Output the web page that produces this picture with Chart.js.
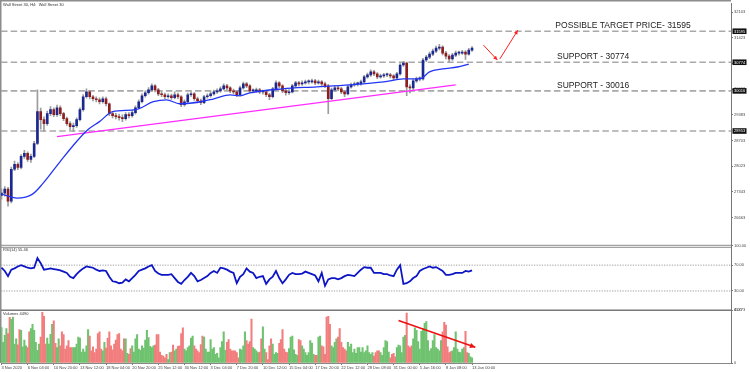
<!DOCTYPE html>
<html><head><meta charset="utf-8">
<script src="https://cdn.jsdelivr.net/npm/chart.js@4.4.1/dist/chart.umd.min.js"></script>
<style>html,body{margin:0;padding:0;background:#fff;}canvas{display:block}</style>
</head><body>
<canvas id="c" width="750" height="372"></canvas>
<script>
// ---------------- DATA ----------------
const chartTitle = "Wall Street 30, H4:  Wall Street 30";
const rsiLabel = "RSI(14) 55.46";
const volLabel = "Volumes 4490";
const barsPerLabel = 16;          // one x label every 16 H4 bars
const candleStep = 2;             // each candle below spans 2 H4 bars
const xTickLabels = ["3 Nov 2020","6 Nov 04:00","10 Nov 20:00","13 Nov 12:00","18 Nov 04:00","20 Nov 20:00","25 Nov 12:00","30 Nov 12:00","3 Dec 04:00","7 Dec 20:00","10 Dec 12:00","15 Dec 04:00","17 Dec 20:00","22 Dec 12:00","28 Dec 08:00","31 Dec 00:00","5 Jan 16:00","8 Jan 08:00","13 Jan 00:00"];

const firstOpen = 27250;
const closes = [27308,27414,27098,27940,28071,27992,28282,28360,28203,28282,
28623,29465,29255,29149,29412,29518,29386,29570,29412,29281,
29149,29070,29097,29255,29518,29860,29991,29860,29807,29781,
29728,29807,29675,29412,29360,29333,29307,29281,29386,29360,
29439,29570,29728,29886,29965,30044,30149,30044,29938,29912,
29860,29886,29833,29912,29860,29649,29728,29912,29938,29807,
29754,29702,29860,29886,29938,29991,30017,30070,30149,30096,
30017,29991,29912,30096,30202,30149,30017,30017,30044,29991,
29991,29912,29860,30070,30228,30149,30017,29965,29991,30149,
30228,30202,30228,30254,30254,30280,30228,30254,30202,30149,
29807,30044,30096,30070,29991,29938,30123,30175,30202,30202,
30254,30386,30438,30517,30464,30386,30412,30438,30438,30412,
30359,30464,30701,30754,30123,30096,30280,30333,30333,30833,
30911,30990,31069,31148,31174,31017,30938,30859,30964,31017,
31017,31043,30990,31095,31148];
const highs = [27420,27480,27460,28000,28160,28120,28330,28440,28400,28340,
28680,30044,29560,29330,29480,29600,29570,29640,29620,29450,
29320,29200,29160,29300,29570,29920,30070,30030,29900,29860,
29830,29860,29850,29700,29470,29420,29400,29380,29440,29440,
29500,29620,29780,29940,30020,30100,30200,30180,30080,29990,
29960,29940,29930,29990,29960,29890,29780,29960,29990,29970,
29850,29800,29900,29940,29990,30040,30070,30120,30200,30190,
30130,30060,30020,30140,30250,30240,30180,30070,30090,30080,
30040,30030,29950,30110,30280,30260,30180,30060,30050,30190,
30270,30270,30280,30300,30310,30330,30320,30300,30290,30250,
30190,30090,30150,30140,30110,30030,30170,30220,30250,30250,
30300,30430,30490,30570,30560,30500,30460,30480,30490,30480,
30450,30510,30740,30800,30780,30180,30320,30380,30390,30880,
30960,31040,31120,31200,31250,31210,31060,30980,31010,31070,
31070,31090,31080,31140,31190];
const lows = [27150,27230,26966,27050,27900,27930,27950,28230,28150,28120,
28250,28590,29000,28940,29100,29360,29330,29340,29360,29230,
29100,28990,28939,29050,29220,29480,29820,29800,29750,29720,
29670,29690,29620,29360,29300,29270,29240,29200,29240,29300,
29320,29400,29540,29700,29850,29930,30000,29990,29890,29860,
29810,29820,29790,29800,29810,29600,29610,29700,29870,29760,
29700,29650,29680,29820,29850,29900,29950,29980,30040,30050,
29970,29940,29860,29890,30060,30100,29970,29960,29980,29940,
29930,29860,29780,29830,30040,30100,29970,29900,29920,29960,
30110,30150,30160,30190,30200,30220,30180,30190,30150,30100,
29412,29780,30000,30020,29940,29860,29910,30090,30140,30150,
30170,30230,30350,30400,30420,30340,30350,30370,30390,30360,
30300,30320,30430,30660,29886,29960,30050,30240,30280,30300,
30790,30870,30950,31030,31100,30970,30860,30780,30820,30920,
30960,30980,30850,30960,31060];

// moving average: [bar index, price]
const maPoints = [[0,27282],[9.5,27177],[19,27282],[25,27545],[36,28150],[46,28676],[53,28991],[60,29202],[68,29465],[82,29518],[93,29728],[101,29780],[109,29675],[122,29728],[130,29807],[140,29912],[146,29886],[152,29964],[172,30070],[193,30122],[213,30175],[234,30254],[246,30333],[256,30333],[262,30517],[270,30596],[279,30648],[286,30727]];
const trendPoints = [[34,28807],[278,30175]];

const levels = [31595, 30774, 30016, 28953];
const levelTexts = ["POSSIBLE TARGET PRICE- 31595", "SUPPORT - 30774", "SUPPORT - 30016"];
const levelTextIdx = [339, 340, 340];
const priceArrows = [[[295,31227],[303.5,30832]], [[305,30859],[316,31621]]];
const priceTicks = [32103,31763,31423,31083,30743,30403,30063,29723,29383,29043,28703,28363,28023,27683,27343,27003,26663,26323];

const rsi = [66,61,53,63,65,68,70,68,66,65,
66,81,73,63,64,65,64,63,62,60,
58,52,50,56,61,65,68,67,66,63,
61,62,61,52,45,44,42,43,48,45,
50,55,61,63,65,68,70,61,57,55,
55,55,56,50,44,41,47,52,58,53,
45,47,50,53,58,61,58,66,65,63,
60,58,42,52,56,65,60,58,50,52,
53,41,48,52,61,50,42,48,55,58,
56,56,57,60,58,56,54,45,58,38,
48,50,50,48,50,53,55,54,53,58,
63,67,66,66,58,58,58,56,56,54,
53,63,70,41,42,45,50,53,61,64,
66,68,66,67,64,61,55,55,56,58,
58,58,61,60,62];
const rsiLevels = [70, 30];
const rsiTicks = [100, 70, 30, 0];

const volumes = [30900,18000,24000,30000,25500,39600,38000,39900,16500,21000,
15900,29100,28500,14000,20000,15000,13500,27000,30000,33600,
28500,18000,11100,16500,22500,44100,40500,16500,21600,16500,
25000,33600,36600,17000,13500,21000,15000,27000,24600,12000,
15000,19500,13500,13500,13500,13500,16500,22500,21600,9600,12000,
9600,15000,29100,23400,10500,14000,9000,12000,25500,27000,
12000,10500,18000,12900,21600,27000,15000,11400,16500,20000,
24600,25500,12000,10500,21000,21000,8400,7500,12600,15000,
9600,21000,24600,12000,11100,15000,13000,
20000,28500,22000,14400,13500,
15000,15600,24600,24600,9600,6600,6000,4500,7500,3000,
9000,9600,15600,10500,12000,14400,15000,25500,30600,12000,
10500,13500,15000,21600,23400,15000,12000,10500,9000,16000,
23400,22500,12000,9600,9600,20400,12000,13500,7500,8400,
4500,13500,18600,27000,11100,18000,20400,12000,10500,10500,
10500,9000,4500,12000,11400,15000,27000,19500,16500,18600,
38100,13500,12000,10500,9000,9600,21000,31500,12000,9000,
3000,15000,21000,16500,7500,9000,8400,17100,20400,29100,
12000,9600,9000,12600,22500,23400,11400,7500,6600,20400,
19500,15000,12000,9000,6600,9000,19500,17400,7500,6600,
6600,22500,23400,15000,14100,7500,39900,40500,33600,15000,
13500,18000,21000,22500,30000,18000,13500,12000,10500,18000,
14000,16500,9000,12000,8400,13500,13500,9600,13500,9000,
10500,15000,9000,7500,9000,6000,9000,
10500,10500,9000,6600,13500,19500,18600,9600,4500,7500,
8400,5400,13500,15600,15000,9000,22500,24000,43500,15000,
13500,15000,21000,30600,28500,18600,12000,27600,30000,34500,
36000,19500,10500,12600,19500,24600,13500,12000,10500,19500,
27000,35400,33000,14100,9000,10000,10500,13500,27000,12000,
9600,9000,12000,13500,27600,9000,8400,5400,4500];
const volMax = 45773;
const volTicks = [45773, 0];
const volArrow = [[243,36850],[290,13650]];

// ---------------- STYLE ----------------
const FONT = '"Liberation Sans", Arial, sans-serif';
const UP = '#1b2890', DOWN = '#8e1e1e', WICK = '#9c9c9c';
const VUP = '#6fc26f', VDOWN = '#f27d7d';
const xMin = -0.3, xMax = 446.5;

// ---------------- BUILD ----------------
const opens = closes.map((c, i) => i === 0 ? firstOpen : closes[i - 1]);
const cx = i => i * candleStep;
const wickData = closes.map((c, i) => ({x: cx(i), y: [lows[i], highs[i]]}));
const bodyData = closes.map((c, i) => ({x: cx(i), y: [opens[i], c]}));
const bodyColors = closes.map((c, i) => c >= opens[i] ? UP : DOWN);
const volData = volumes.map((v, i) => ({x: i, y: v}));
const volColors = volumes.map((v, i) => {
  const k = Math.min(closes.length - 1, Math.floor(i / candleStep));
  return closes[k] >= opens[k] ? VUP : VDOWN;
});
const rsiData = rsi.map((v, i) => ({x: cx(i), y: v}));
const xTickIdx = xTickLabels.map((_, i) => i * barsPerLabel);
const toXY = p => ({x: p[0], y: p[1]});

const datasets = [];
levels.forEach(L => datasets.push({type: 'line', yAxisID: 'y', order: 20,
  data: [{x: xMin, y: L}, {x: xMax, y: L}], borderColor: '#a9a9a9', borderWidth: 1.6,
  borderDash: [6.5, 3.2], pointRadius: 0}));
datasets.push({type: 'bar', yAxisID: 'y', order: 12, data: wickData, backgroundColor: WICK,
  barThickness: 1, grouped: false});
datasets.push({type: 'bar', yAxisID: 'y', order: 11, data: bodyData, backgroundColor: bodyColors,
  barThickness: 2, grouped: false, minBarLength: 1});
datasets.push({type: 'line', yAxisID: 'y', order: 9, data: trendPoints.map(toXY),
  borderColor: '#ff2bff', borderWidth: 1.3, pointRadius: 0});
datasets.push({type: 'line', yAxisID: 'y', order: 8, data: maPoints.map(toXY),
  borderColor: '#2335f5', borderWidth: 1.3, pointRadius: 0, cubicInterpolationMode: 'monotone'});
priceArrows.forEach(a => datasets.push({type: 'line', yAxisID: 'y', order: 5,
  data: a.map(toXY), borderColor: '#ff2020', borderWidth: 1, pointRadius: 0}));
rsiLevels.forEach(L => datasets.push({type: 'line', yAxisID: 'rsi', order: 20,
  data: [{x: xMin, y: L}, {x: xMax, y: L}], borderColor: '#a0a0a0', borderWidth: 1,
  borderDash: [1.3, 1.3], pointRadius: 0}));
datasets.push({type: 'line', yAxisID: 'rsi', order: 6, data: rsiData,
  borderColor: '#0d16c4', borderWidth: 1.8, pointRadius: 0, tension: 0});
datasets.push({type: 'bar', yAxisID: 'vol', order: 10, data: volData, backgroundColor: volColors,
  barThickness: 1.4, grouped: false});
datasets.push({type: 'line', yAxisID: 'vol', order: 4, data: volArrow.map(toXY),
  borderColor: '#ee1111', borderWidth: 1.6, pointRadius: 0});

function seg(c, x1, y1, x2, y2) { c.beginPath(); c.moveTo(x1, y1); c.lineTo(x2, y2); c.stroke(); }
function head(c, x1, y1, x2, y2, size, color) {
  const ang = Math.atan2(y2 - y1, x2 - x1);
  c.fillStyle = color; c.beginPath(); c.moveTo(x2, y2);
  c.lineTo(x2 - size * Math.cos(ang - 0.45), y2 - size * Math.sin(ang - 0.45));
  c.lineTo(x2 - size * Math.cos(ang + 0.45), y2 - size * Math.sin(ang + 0.45));
  c.closePath(); c.fill();
}

const overlay = {
  id: 'overlay',
  beforeDraw(chart) {
    const c = chart.ctx; c.save(); c.fillStyle = '#fff'; c.fillRect(0, 0, chart.width, chart.height); c.restore();
  },
  beforeDatasetsDraw(chart) {
    const c = chart.ctx, a = chart.chartArea, s = chart.scales;
    c.save();
    c.strokeStyle = '#8c8c8c';
    c.lineWidth = 1.5; seg(c, 0, 0.75, a.right, 0.75); seg(c, 0.75, 0, 0.75, a.bottom);
    c.lineWidth = 1;
    seg(c, a.left, s.y.bottom - 0.5, a.right, s.y.bottom - 0.5);
    seg(c, a.left, s.y.bottom + 1.5, a.right, s.y.bottom + 1.5);
    c.strokeStyle = '#777'; c.lineWidth = 1.5;
    seg(c, a.left, s.rsi.bottom, a.right, s.rsi.bottom);
    c.restore();
  },
  afterDatasetsDraw(chart) {
    const c = chart.ctx, s = chart.scales, x = s.x;
    c.save();
    priceArrows.forEach(a => head(c, x.getPixelForValue(a[0][0]), s.y.getPixelForValue(a[0][1]),
      x.getPixelForValue(a[1][0]), s.y.getPixelForValue(a[1][1]), 4.5, '#ff2020'));
    head(c, x.getPixelForValue(volArrow[0][0]), s.vol.getPixelForValue(volArrow[0][1]),
      x.getPixelForValue(volArrow[1][0]), s.vol.getPixelForValue(volArrow[1][1]), 6, '#ee1111');
    c.fillStyle = '#222'; c.font = '8.5px ' + FONT; c.textBaseline = 'alphabetic'; c.textAlign = 'left';
    levelTexts.forEach((t, i) => c.fillText(t, x.getPixelForValue(levelTextIdx[i]), s.y.getPixelForValue(levels[i]) - 3));
    c.restore();
  },
  afterDraw(chart) {
    const c = chart.ctx, s = chart.scales, a = chart.chartArea;
    c.save();
    c.font = '4px ' + FONT; c.textBaseline = 'top'; c.textAlign = 'left'; c.fillStyle = '#333';
    c.fillText(chartTitle, 3, 3);
    c.fillText(rsiLabel, 3, s.rsi.top + 2.5);
    c.fillText(volLabel, 3, s.vol.top + 2);
    c.textBaseline = 'middle';
    levels.forEach(L => {
      const py = s.y.getPixelForValue(L);
      c.fillStyle = '#111'; c.fillRect(a.right + 1.5, py - 2.8, 14, 5.6);
      c.fillStyle = '#fff'; c.fillText(String(L), a.right + 3, py + 0.3);
    });
    c.restore();
  }
};

const yCommon = (ticks, fmt) => ({
  type: 'linear', position: 'right', stack: 'panels',
  afterBuildTicks: s => { s.ticks = ticks.map(v => ({value: v})); },
  afterFit: s => { s.width = 19; },
  grid: {drawOnChartArea: false, tickLength: 2, color: '#777'},
  border: {color: '#777', width: 1},
  ticks: {font: {size: 4, family: FONT}, color: '#444', padding: 1, callback: fmt}
});

new Chart(document.getElementById('c'), {
  data: {datasets},
  options: {
    responsive: false, animation: false, events: [],
    layout: {padding: {top: 1, left: 1, right: 0, bottom: 0}},
    plugins: {legend: {display: false}, tooltip: {enabled: false}},
    scales: {
      x: {type: 'linear', min: xMin, max: xMax, position: 'bottom', offset: false,
        afterBuildTicks: s => { s.ticks = xTickIdx.map(v => ({value: v})); },
        afterFit: s => { s.height = 9; s.paddingLeft = 0; s.paddingRight = 0; },
        grid: {drawOnChartArea: false, offset: false, tickLength: 2, color: '#777'},
        border: {color: '#888', width: 1},
        ticks: {autoSkip: false, maxRotation: 0, align: 'start', padding: 0.5,
          font: {size: 4, family: FONT}, color: '#444',
          callback: v => { const i = xTickIdx.indexOf(v); return i >= 0 ? xTickLabels[i] : ''; }}},
      y: Object.assign(yCommon(priceTicks, v => String(v)), {stackWeight: 244, min: 25914, max: 32332, weight: 1}),
      rsi: Object.assign(yCommon(rsiTicks, v => v.toFixed(2)), {stackWeight: 65, min: 0, max: 100, weight: 2}),
      vol: Object.assign(yCommon(volTicks, v => String(v)), {stackWeight: 53, min: 0, max: volMax, weight: 3})
    }
  },
  plugins: [overlay]
});
</script>
</body></html>
